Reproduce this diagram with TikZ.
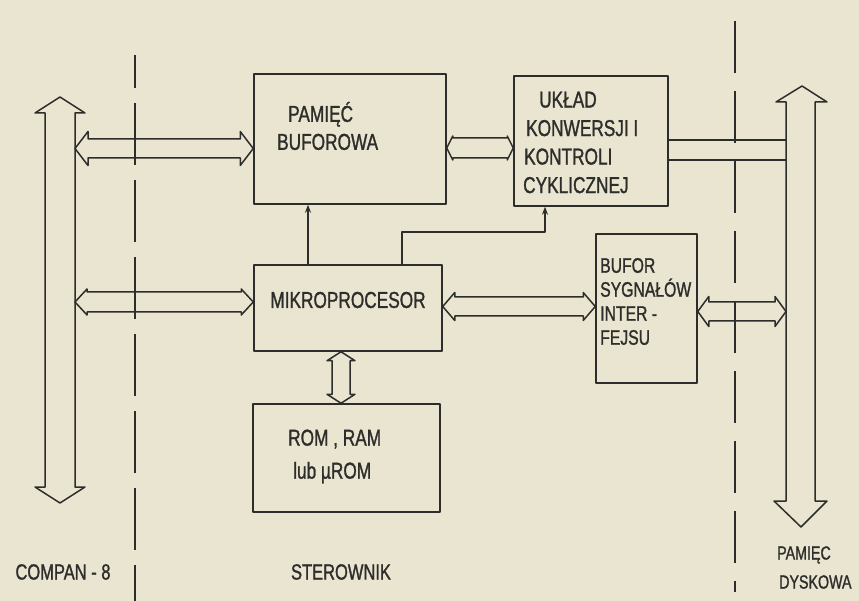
\documentclass[tikz,border=0pt]{standalone}
\usepackage{fontspec}
\setmainfont{Liberation Sans}[FakeStretch=0.75,FakeBold=1.2]
\usetikzlibrary{calc,arrows.meta}
\definecolor{ink}{HTML}{2D2D2B}
\definecolor{paper}{HTML}{EAE5D0}
% hollow double arrow, left point #1, right point #2, half shaft #3, half head #4, head length #5
\newcommand\hbusarrow[5]{%
 \draw[wire] (#1) -- ($(#1)+(#5,-#4)$) -- ($(#1)+(#5,-#3)$) -- ($(#2)+(-#5,-#3)$) -- ($(#2)+(-#5,-#4)$) -- (#2) -- ($(#2)+(-#5,#4)$) -- ($(#2)+(-#5,#3)$) -- ($(#1)+(#5,#3)$) -- ($(#1)+(#5,#4)$) -- cycle;}
\newcommand\vbusarrow[5]{%
 \draw[wire] (#1) -- ($(#1)+(-#4,#5)$) -- ($(#1)+(-#3,#5)$) -- ($(#2)+(-#3,-#5)$) -- ($(#2)+(-#4,-#5)$) -- (#2) -- ($(#2)+(#4,-#5)$) -- ($(#2)+(#3,-#5)$) -- ($(#1)+(#3,#5)$) -- ($(#1)+(#4,#5)$) -- cycle;}
\begin{document}
\begin{tikzpicture}[x=1pt,y=-1pt,line join=round,line cap=round,
  box/.style={draw=ink,line width=1.5pt,inner sep=0pt},
  lbl/.style={text=ink,inner sep=0pt,font=\fontsize{23}{28}\selectfont,align=left},
  wire/.style={draw=ink,line width=1.5pt},
  sep/.style={draw=ink,line width=1.4pt,line cap=butt}]
\fill[paper] (0,0) rectangle (859,601);
\useasboundingbox (0,0) rectangle (859,601);

% separators
\coordinate (dl1) at (135,55);
\coordinate (dl2) at (135,601);
\draw[sep,dash pattern=on 62pt off 15pt,dash phase=29pt] (dl1) -- (dl2);
\coordinate (dr1) at (735,21);
\coordinate (dr2) at (735,592);
\draw[sep,dash pattern=on 52pt off 18pt] (dr1) -- (dr2);

% buses
\draw[wire] (45,113) -- (35,113) -- (60,97) -- (85,113) -- (75,113) -- (75,487) -- (85,487) -- (60,503) -- (35,487) -- (45,487) -- cycle;
\coordinate (lbE) at (75,300);
\draw[wire] (786,102) -- (776,102) -- (802,86) -- (827,102) -- (815,102) -- (815,501) -- (827,501) -- (801,527) -- (774,501) -- (786,501) -- cycle;
\coordinate (rbW) at (786,300);

% boxes
\node[box,minimum width=192pt,minimum height=130pt] (pam) at (350,139) {};
\node[box,minimum width=154pt,minimum height=130pt] (ukl) at (591,141) {};
\node[box,minimum width=188pt,minimum height=86pt] (mik) at (348,308) {};
\node[box,minimum width=101pt,minimum height=149pt] (buf) at (646.5,308.5) {};
\node[box,minimum width=187pt,minimum height=108pt] (rom) at (346.5,458) {};

% texts
\node[lbl,anchor=west] (tpam) at (277,126) {\hspace{11pt}PAMIĘĆ\\BUFOROWA};
\node[lbl,anchor=west,font=\fontsize{23}{28.5}\selectfont] (tukl) at (523,142.5) {\hspace{16pt}UKŁAD\\\hspace{3pt}KONWERSJI I\\\hspace{1pt}KONTROLI\\CYKLICZNEJ};
\node[lbl] (tmik) at (348,300) {MIKROPROCESOR};
\node[lbl,anchor=west,font=\fontsize{21}{24}\selectfont] (tbuf) at (600,301.5) {BUFOR\\SYGNAŁÓW\\INTER -\\FEJSU};
\node[lbl,anchor=west,font=\fontsize{23}{33}\selectfont] (trom) at (288,456.5) {ROM , RAM\\\hspace{5pt}lub µROM};
\node[lbl,font=\fontsize{22}{29}\selectfont] (tcomp) at (63,572) {COMPAN - 8};
\node[lbl,font=\fontsize{22}{29}\selectfont] (tster) at (341,572) {STEROWNIK};
\node[lbl,anchor=west,font=\fontsize{19}{29}\selectfont] (tdisk) at (777,567.5) {PAMIĘC\\\hspace{2pt}DYSKOWA};

% double arrows
\coordinate (a1) at (75,148.5);
\hbusarrow{a1}{a1 -| pam.west}{9.5}{17}{13}
\coordinate (a2) at (75,302);
\hbusarrow{a2}{a2 -| mik.west}{10}{13}{12}
\coordinate (a3) at ($(pam.east)+(0,9)$);
\hbusarrow{a3}{a3 -| ukl.west}{10}{12}{6}
\coordinate (a4) at ($(mik.east)+(0,-1.5)$);
\hbusarrow{a4}{a4 -| buf.west}{9.5}{14}{12}
\coordinate (a5) at ($(buf.east)+(0,3)$);
\hbusarrow{a5}{a5 -| rbW}{9.5}{15}{11}
\coordinate (a6) at ($(mik.south)+(-7,0)$);
\vbusarrow{a6}{a6 |- rom.north}{9}{14}{9}

% single arrows
\coordinate (p1) at ($(mik.north)+(-40,0)$);
\draw[wire,-{Stealth[length=8pt,width=6pt]}] (p1) -- (p1 |- pam.south);
\coordinate (k1) at ($(mik.north)+(54,0)$);
\coordinate (k2) at (545,232);
\draw[wire,-{Stealth[length=8pt,width=6pt]}] (k1) -- (k1 |- k2) -- (k2) -- (k2 |- ukl.south);

% lines from conversion unit to disk bus
\coordinate (u1) at ($(ukl.east)+(0,-1)$);
\coordinate (u2) at ($(ukl.east)+(0,19)$);
\draw[wire] (u1) -- (u1 -| rbW);
\draw[wire] (u2) -- (u2 -| rbW);
\end{tikzpicture}
\end{document}
